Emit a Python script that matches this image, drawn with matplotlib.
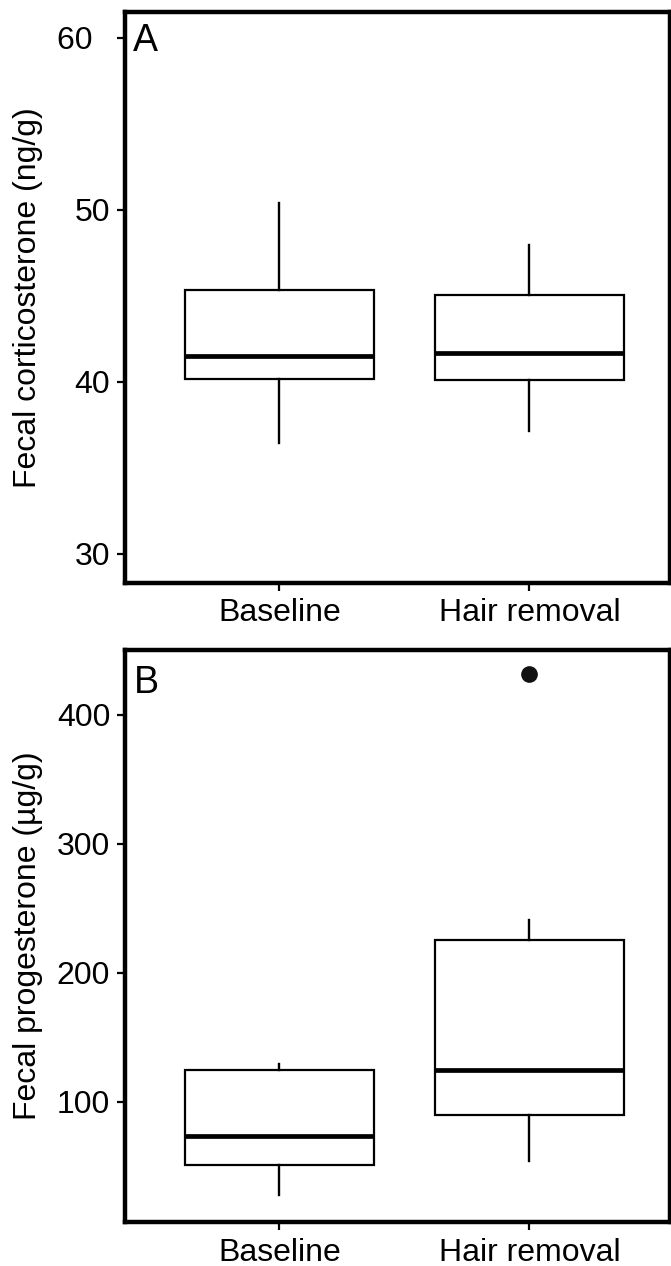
import matplotlib
matplotlib.use("Agg")
import matplotlib.pyplot as plt

plt.rcParams['font.family'] = ['Liberation Sans', 'DejaVu Sans']

groups = ['Baseline', 'Hair removal']

# panel A: fecal corticosterone (ng/g)
cort_low = [36.4, 37.15]
cort_q1 = [40.16, 40.07]
cort_med = [41.5, 41.66]
cort_q3 = [45.34, 45.02]
cort_high = [50.4, 47.92]
cort_out = [[], []]
cort_ticks = [30, 40, 50, 60]
cort_ticklabels = ['30', '40', '50', '60  ']  # the 60 sits further left in the original

# panel B: fecal progesterone (µg/g)
prog_low = [27.4, 53.9]
prog_q1 = [50.7, 89.8]
prog_med = [73.4, 124.9]
prog_q3 = [124.9, 225.7]
prog_high = [129.7, 241.0]
prog_out = [[], [431.9]]
prog_ticks = [100, 200, 300, 400]
prog_ticklabels = ['100', '200', '300', '400']


def make_stats(low, q1, med, q3, high, out):
    stats = []
    for i in range(len(groups)):
        stats.append(dict(whislo=low[i], q1=q1[i], med=med[i], q3=q3[i],
                          whishi=high[i], fliers=out[i], label=groups[i]))
    return stats


fig = plt.figure(figsize=(6.71, 12.66), dpi=100)
axA = fig.add_axes([0.187, 0.5397, 0.8115, 0.4509])
axB = fig.add_axes([0.187, 0.0345, 0.8115, 0.4523])


def draw(ax, stats, ylim, yticks, yticklabels, ylabel, letter, letter_xy):
    ax.bxp(stats, positions=[1, 2], widths=0.755, showcaps=False,
           patch_artist=True,
           boxprops=dict(facecolor='white', edgecolor='black', linewidth=1.6),
           whiskerprops=dict(color='black', linewidth=1.7),
           medianprops=dict(color='black', linewidth=3.4),
           flierprops=dict(marker='o', markerfacecolor='#111111',
                           markeredgecolor='#111111', markersize=11))
    ax.set_xlim(0.384, 2.562)
    ax.set_ylim(*ylim)
    ax.set_yticks(yticks)
    ax.set_yticklabels(yticklabels)
    ax.set_ylabel(ylabel, fontsize=23)
    ax.yaxis.set_label_coords(-0.152, 0.5)
    ax.tick_params(axis='both', labelsize=23, width=1.6, length=6, pad=5,
                   colors='black')
    for s in ax.spines.values():
        s.set_linewidth(3.2)
    ax.text(letter_xy[0], letter_xy[1], letter, transform=ax.transAxes,
            fontsize=27, ha='left', va='top')


draw(axA, make_stats(cort_low, cort_q1, cort_med, cort_q3, cort_high, cort_out),
     (28.3, 61.5), cort_ticks, cort_ticklabels, 'Fecal corticosterone (ng/g)',
     'A', (0.013, 0.980))
draw(axB, make_stats(prog_low, prog_q1, prog_med, prog_q3, prog_high, prog_out),
     (6.6, 450.5), prog_ticks, prog_ticklabels, 'Fecal progesterone (µg/g)',
     'B', (0.016, 0.974))

fig.savefig('out.png', dpi=100)
